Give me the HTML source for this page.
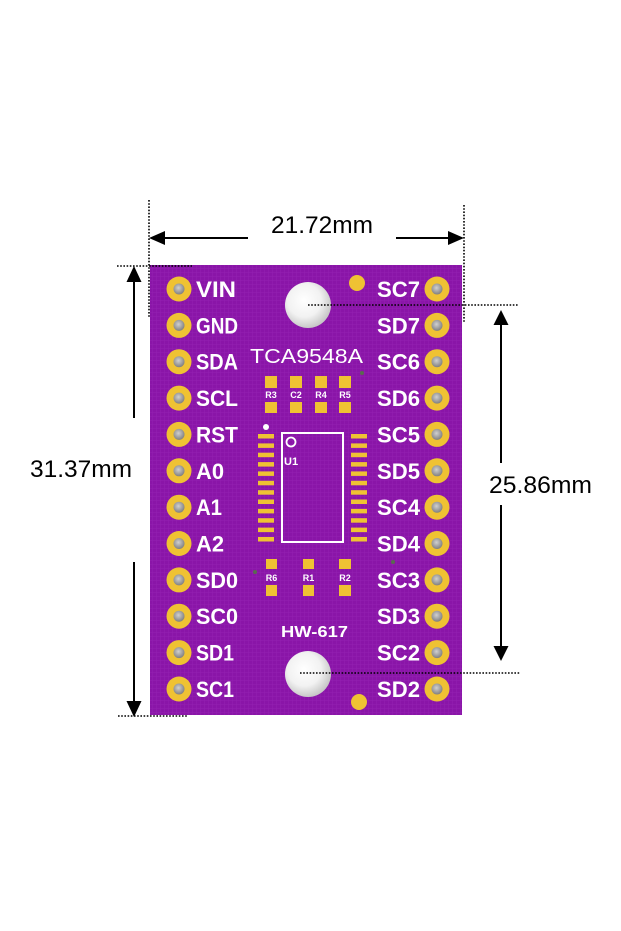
<!DOCTYPE html>
<html><head><meta charset="utf-8"><style>
html,body{margin:0;padding:0;background:#fff;}
svg{display:block;}
</style></head><body>
<svg width="621" height="931" viewBox="0 0 621 931" xmlns="http://www.w3.org/2000/svg">
<defs>
<pattern id="grid" width="4" height="4" patternUnits="userSpaceOnUse">
<rect width="4" height="4" fill="#8a15a8"/>
<rect width="4" height="1" fill="#9320b1" opacity="0.6"/>
<rect width="1" height="4" fill="#9320b1" opacity="0.6"/>
</pattern>
<radialGradient id="hole" cx="0.42" cy="0.4" r="0.6">
<stop offset="0" stop-color="#ffffff"/>
<stop offset="0.6" stop-color="#f2f2f2"/>
<stop offset="1" stop-color="#c8c8c8"/>
</radialGradient>
<radialGradient id="pinh" cx="0.45" cy="0.4" r="0.6">
<stop offset="0" stop-color="#d0d0d0"/>
<stop offset="1" stop-color="#808080"/>
</radialGradient>
</defs>

<!-- board -->
<rect x="150" y="265" width="312" height="450" fill="url(#grid)"/>

<!-- mounting holes -->
<circle cx="308" cy="305" r="23" fill="url(#hole)"/>
<circle cx="308" cy="674" r="23" fill="url(#hole)"/>
<!-- gold dots -->
<circle cx="357" cy="283" r="8" fill="#efc233"/>
<circle cx="359" cy="702" r="8" fill="#efc233"/>
<!-- tiny vias -->
<circle cx="362" cy="373" r="2" fill="#5a6a50"/>
<circle cx="255" cy="572" r="2" fill="#5a6a50"/>
<circle cx="393" cy="562" r="2" fill="#5a6a50"/>

<!-- pins -->
<g fill="#efc233">
<circle cx="179" cy="289" r="12.5"/><circle cx="179" cy="325.4" r="12.5"/><circle cx="179" cy="361.7" r="12.5"/><circle cx="179" cy="398.1" r="12.5"/><circle cx="179" cy="434.4" r="12.5"/><circle cx="179" cy="470.8" r="12.5"/><circle cx="179" cy="507.2" r="12.5"/><circle cx="179" cy="543.5" r="12.5"/><circle cx="179" cy="579.9" r="12.5"/><circle cx="179" cy="616.2" r="12.5"/><circle cx="179" cy="652.6" r="12.5"/><circle cx="179" cy="689" r="12.5"/>
<circle cx="437" cy="289" r="12.5"/><circle cx="437" cy="325.4" r="12.5"/><circle cx="437" cy="361.7" r="12.5"/><circle cx="437" cy="398.1" r="12.5"/><circle cx="437" cy="434.4" r="12.5"/><circle cx="437" cy="470.8" r="12.5"/><circle cx="437" cy="507.2" r="12.5"/><circle cx="437" cy="543.5" r="12.5"/><circle cx="437" cy="579.9" r="12.5"/><circle cx="437" cy="616.2" r="12.5"/><circle cx="437" cy="652.6" r="12.5"/><circle cx="437" cy="689" r="12.5"/>
</g>
<g fill="url(#pinh)">
<circle cx="179" cy="289" r="5.5"/><circle cx="179" cy="325.4" r="5.5"/><circle cx="179" cy="361.7" r="5.5"/><circle cx="179" cy="398.1" r="5.5"/><circle cx="179" cy="434.4" r="5.5"/><circle cx="179" cy="470.8" r="5.5"/><circle cx="179" cy="507.2" r="5.5"/><circle cx="179" cy="543.5" r="5.5"/><circle cx="179" cy="579.9" r="5.5"/><circle cx="179" cy="616.2" r="5.5"/><circle cx="179" cy="652.6" r="5.5"/><circle cx="179" cy="689" r="5.5"/>
<circle cx="437" cy="289" r="5.5"/><circle cx="437" cy="325.4" r="5.5"/><circle cx="437" cy="361.7" r="5.5"/><circle cx="437" cy="398.1" r="5.5"/><circle cx="437" cy="434.4" r="5.5"/><circle cx="437" cy="470.8" r="5.5"/><circle cx="437" cy="507.2" r="5.5"/><circle cx="437" cy="543.5" r="5.5"/><circle cx="437" cy="579.9" r="5.5"/><circle cx="437" cy="616.2" r="5.5"/><circle cx="437" cy="652.6" r="5.5"/><circle cx="437" cy="689" r="5.5"/>
</g>

<!-- pin labels -->
<g fill="#fff" font-family="Liberation Sans, sans-serif" font-weight="bold" font-size="22">
<text x="196" y="297" textLength="40" lengthAdjust="spacingAndGlyphs">VIN</text>
<text x="196" y="333.4" textLength="42" lengthAdjust="spacingAndGlyphs">GND</text>
<text x="196" y="369.7" textLength="42" lengthAdjust="spacingAndGlyphs">SDA</text>
<text x="196" y="406.1" textLength="42" lengthAdjust="spacingAndGlyphs">SCL</text>
<text x="196" y="442.4" textLength="42" lengthAdjust="spacingAndGlyphs">RST</text>
<text x="196" y="478.8" textLength="28" lengthAdjust="spacingAndGlyphs">A0</text>
<text x="196" y="515.2" textLength="26" lengthAdjust="spacingAndGlyphs">A1</text>
<text x="196" y="551.5" textLength="28" lengthAdjust="spacingAndGlyphs">A2</text>
<text x="196" y="587.9" textLength="42" lengthAdjust="spacingAndGlyphs">SD0</text>
<text x="196" y="624.2" textLength="42" lengthAdjust="spacingAndGlyphs">SC0</text>
<text x="196" y="660.6" textLength="38" lengthAdjust="spacingAndGlyphs">SD1</text>
<text x="196" y="697" textLength="38" lengthAdjust="spacingAndGlyphs">SC1</text>
</g>
<g fill="#fff" font-family="Liberation Sans, sans-serif" font-weight="bold" font-size="22">
<text x="377" y="297" textLength="43" lengthAdjust="spacingAndGlyphs">SC7</text>
<text x="377" y="333.4" textLength="43" lengthAdjust="spacingAndGlyphs">SD7</text>
<text x="377" y="369.7" textLength="43" lengthAdjust="spacingAndGlyphs">SC6</text>
<text x="377" y="406.1" textLength="43" lengthAdjust="spacingAndGlyphs">SD6</text>
<text x="377" y="442.4" textLength="43" lengthAdjust="spacingAndGlyphs">SC5</text>
<text x="377" y="478.8" textLength="43" lengthAdjust="spacingAndGlyphs">SD5</text>
<text x="377" y="515.2" textLength="43" lengthAdjust="spacingAndGlyphs">SC4</text>
<text x="377" y="551.5" textLength="43" lengthAdjust="spacingAndGlyphs">SD4</text>
<text x="377" y="587.9" textLength="43" lengthAdjust="spacingAndGlyphs">SC3</text>
<text x="377" y="624.2" textLength="43" lengthAdjust="spacingAndGlyphs">SD3</text>
<text x="377" y="660.6" textLength="43" lengthAdjust="spacingAndGlyphs">SC2</text>
<text x="377" y="697" textLength="43" lengthAdjust="spacingAndGlyphs">SD2</text>
</g>

<!-- chip title -->
<text x="250" y="363" textLength="113" lengthAdjust="spacingAndGlyphs" fill="#fff" font-family="Liberation Sans, sans-serif" font-size="20">TCA9548A</text>

<!-- small pads -->
<g fill="#efc233">
<rect x="265" y="376" width="12" height="12"/><rect x="265" y="402" width="12" height="11"/>
<rect x="290" y="376" width="12" height="12"/><rect x="290" y="402" width="12" height="11"/>
<rect x="315" y="376" width="12" height="12"/><rect x="315" y="402" width="12" height="11"/>
<rect x="339" y="376" width="12" height="12"/><rect x="339" y="402" width="12" height="11"/>
<rect x="266" y="559" width="11" height="10"/><rect x="266" y="585" width="11" height="11"/>
<rect x="303" y="559" width="11" height="10"/><rect x="303" y="585" width="11" height="11"/>
<rect x="339" y="559" width="12" height="10"/><rect x="339" y="585" width="12" height="11"/>
</g>
<g fill="#fff" font-family="Liberation Sans, sans-serif" font-weight="bold" font-size="9" text-anchor="middle">
<text x="271" y="398">R3</text><text x="296" y="398">C2</text><text x="321" y="398">R4</text><text x="345" y="398">R5</text>
<text x="271.5" y="581">R6</text><text x="308.5" y="581">R1</text><text x="345" y="581">R2</text>
</g>

<!-- IC -->
<rect x="282" y="433" width="61" height="109" fill="none" stroke="#fff" stroke-width="2"/>
<circle cx="291" cy="442" r="4.5" fill="none" stroke="#fff" stroke-width="1.8"/>
<text x="284" y="465" fill="#fff" font-family="Liberation Sans, sans-serif" font-weight="bold" font-size="11">U1</text>
<circle cx="266" cy="427" r="3" fill="#fff"/>
<g fill="#efc233">
<rect x="258" y="434" width="16" height="4.5"/><rect x="258" y="443.4" width="16" height="4.5"/><rect x="258" y="452.7" width="16" height="4.5"/><rect x="258" y="462.1" width="16" height="4.5"/><rect x="258" y="471.4" width="16" height="4.5"/><rect x="258" y="480.8" width="16" height="4.5"/><rect x="258" y="490.2" width="16" height="4.5"/><rect x="258" y="499.5" width="16" height="4.5"/><rect x="258" y="508.9" width="16" height="4.5"/><rect x="258" y="518.2" width="16" height="4.5"/><rect x="258" y="527.6" width="16" height="4.5"/><rect x="258" y="537" width="16" height="4.5"/>
<rect x="351" y="434" width="16" height="4.5"/><rect x="351" y="443.4" width="16" height="4.5"/><rect x="351" y="452.7" width="16" height="4.5"/><rect x="351" y="462.1" width="16" height="4.5"/><rect x="351" y="471.4" width="16" height="4.5"/><rect x="351" y="480.8" width="16" height="4.5"/><rect x="351" y="490.2" width="16" height="4.5"/><rect x="351" y="499.5" width="16" height="4.5"/><rect x="351" y="508.9" width="16" height="4.5"/><rect x="351" y="518.2" width="16" height="4.5"/><rect x="351" y="527.6" width="16" height="4.5"/><rect x="351" y="537" width="16" height="4.5"/>
</g>

<text x="281" y="637" textLength="67" lengthAdjust="spacingAndGlyphs" fill="#fff" font-family="Liberation Sans, sans-serif" font-weight="bold" font-size="16">HW-617</text>

<!-- dotted guide lines -->
<g stroke="#000" stroke-width="1.6" stroke-dasharray="1.6 1.6" fill="none">
<line x1="149" y1="200" x2="149" y2="318"/>
<line x1="464" y1="205" x2="464" y2="323"/>
<line x1="117" y1="266" x2="192" y2="266"/>
<line x1="118" y1="716" x2="187" y2="716"/>
<line x1="308" y1="305" x2="518" y2="305"/>
<line x1="300" y1="673" x2="520" y2="673"/>
</g>

<!-- dimension arrows -->
<g stroke="#000" stroke-width="2" fill="none">
<line x1="160" y1="238" x2="248" y2="238"/>
<line x1="396" y1="238" x2="453" y2="238"/>
<line x1="134" y1="278" x2="134" y2="418"/>
<line x1="134" y1="562" x2="134" y2="704"/>
<line x1="501" y1="322" x2="501" y2="463"/>
<line x1="501" y1="505" x2="501" y2="649"/>
</g>
<g fill="#000">
<polygon points="149,238 165,231 165,245"/>
<polygon points="464,238 448,231 448,245"/>
<polygon points="134,266 126.5,282 141.5,282"/>
<polygon points="134,717 126.5,701 141.5,701"/>
<polygon points="501,310 493.5,325 508.5,325"/>
<polygon points="501,661 493.5,646 508.5,646"/>
</g>

<g fill="#000" font-family="Liberation Sans, sans-serif" font-size="24">
<text x="271" y="233" textLength="102" lengthAdjust="spacingAndGlyphs">21.72mm</text>
<text x="30" y="477" textLength="102" lengthAdjust="spacingAndGlyphs">31.37mm</text>
<text x="489" y="493" textLength="103" lengthAdjust="spacingAndGlyphs">25.86mm</text>
</g>
</svg>
</body></html>
